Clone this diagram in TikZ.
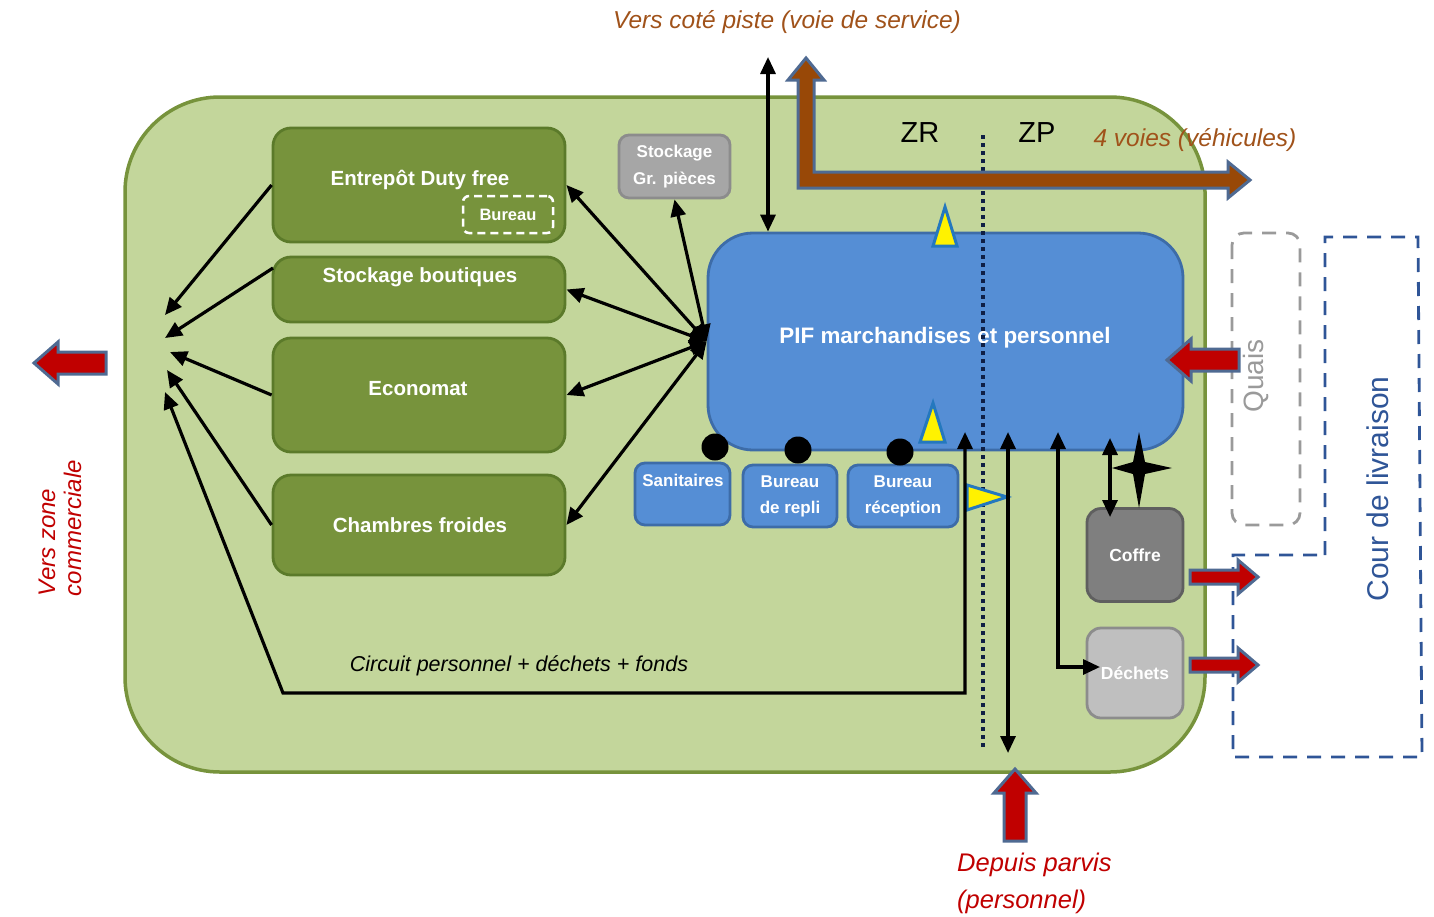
\documentclass[tikz,border=0pt]{standalone}
\usepackage{fontspec}
\setmainfont{Liberation Sans}
\usetikzlibrary{arrows.meta}

\definecolor{sitefill}{HTML}{C3D69B}
\definecolor{sitedraw}{HTML}{77933C}
\definecolor{olivebox}{HTML}{77933C}
\definecolor{olivedraw}{HTML}{5B7A2A}
\definecolor{bluebox}{HTML}{558ED5}
\definecolor{bluedraw}{HTML}{3D6CA8}
\definecolor{greybox}{HTML}{A6A6A6}
\definecolor{greydraw}{HTML}{8C8C8C}
\definecolor{darkbox}{HTML}{7F7F7F}
\definecolor{darkdraw}{HTML}{5F5F5F}
\definecolor{lightbox}{HTML}{BFBFBF}
\definecolor{lightdraw}{HTML}{8C8C8C}
\definecolor{roadbrown}{HTML}{984807}
\definecolor{textbrown}{HTML}{A0521A}
\definecolor{arrowred}{HTML}{C00000}
\definecolor{arrowedge}{HTML}{4F6A92}
\definecolor{zoneline}{HTML}{0F1F45}
\definecolor{tribord}{HTML}{2478BE}
\definecolor{courblue}{HTML}{2F5597}
\definecolor{quaisgrey}{HTML}{9A9A9A}

\tikzset{
  site/.style={draw=sitedraw, fill=sitefill, line width=3.5pt, rounded corners=95pt},
  olive/.style={draw=olivedraw, fill=olivebox, line width=2.8pt, rounded corners=18pt},
  bluepart/.style={draw=bluedraw, fill=bluebox, line width=2.8pt, rounded corners=10pt,
    text=white, font=\bfseries\fontsize{17}{26}\selectfont, align=center},
  greypart/.style={draw=greydraw, fill=greybox, line width=2.8pt, rounded corners=10pt,
    text=white, font=\bfseries\fontsize{17}{27}\selectfont, align=center},
  boxlabel/.style={text=white, font=\bfseries\fontsize{20.5}{24}\selectfont, inner sep=0pt},
  smalllabel/.style={text=white, font=\bfseries\fontsize{17}{20}\selectfont, inner sep=0pt},
  arr/.style={line width=3.2pt, -{Triangle[length=17pt,width=15pt]}},
  dblarr/.style={line width=3.2pt, {Triangle[length=17pt,width=15pt]}-{Triangle[length=17pt,width=15pt]}},
  dot/.style={circle, fill=black, minimum size=27pt, inner sep=0pt},
  warn/.style={draw=tribord, fill=yellow, line width=3pt, line join=miter},
  redblock/.style={draw=arrowedge, fill=arrowred, line width=3pt, line join=miter},
  bigarrow/.pic={\path[redblock] (-36,-11) -- (12,-11) -- (12,-21) -- (36,0) -- (12,21) -- (12,11) -- (-36,11) -- cycle;},
  smallarrow/.pic={\path[redblock] (-34,-7) -- (14,-7) -- (14,-17) -- (34,0) -- (14,17) -- (14,7) -- (-34,7) -- cycle;},
  note/.style={font=\itshape\fontsize{24.5}{28}\selectfont, inner sep=0pt},
}

\begin{document}
\begin{tikzpicture}[x=1pt,y=-1pt]
\useasboundingbox (0,0) rectangle (1434,916);

% site outline
\node[site, minimum width=1080pt, minimum height=675pt] (site) at (665,434.5) {};

% storage rooms on the left
\node[olive, minimum width=292pt, minimum height=114pt] (entrepot) at (419,185) {};
\node[boxlabel] (entrepotT) at (420,180) {Entrepôt Duty free};
\node[draw=white, dashed, dash pattern=on 8pt off 5pt, line width=2.5pt, rounded corners=6pt,
      minimum width=90pt, minimum height=37pt, text=white,
      font=\bfseries\fontsize{16.5}{18}\selectfont] (bureau) at (508,214.5) {Bureau};
\node[olive, minimum width=292pt, minimum height=65pt] (boutiques) at (419,289.5) {};
\node[boxlabel] (boutiquesT) at (420,277) {Stockage boutiques};
\node[olive, minimum width=292pt, minimum height=114pt] (economat) at (419,395) {};
\node[boxlabel] (economatT) at (418,389) {Economat};
\node[olive, minimum width=292pt, minimum height=100pt] (chambres) at (419,525) {};
\node[boxlabel] (chambresT) at (420,525) {Chambres froides};

% large parts storage
\node[greypart, minimum width=111pt, minimum height=63pt] (grpieces) at (674.5,166.5)
  {Stockage\\Gr. pièces};

% screening area
\node[draw=bluedraw, fill=bluebox, line width=2.8pt, rounded corners=45pt,
      minimum width=475pt, minimum height=217pt] (pif) at (945.5,341.5) {};
\node[text=white, font=\bfseries\fontsize{22.4}{26}\selectfont, inner sep=0pt] (pifT)
  at (945,338) {PIF marchandises et personnel};

% small rooms under the screening area
\node[bluepart, minimum width=95pt, minimum height=62pt] (sanitaires) at (682.5,494) {};
\node[smalllabel] (sanitairesT) at (683,480) {Sanitaires};
\node[bluepart, minimum width=94pt, minimum height=62pt] (repli) at (790,496) {Bureau\\de repli};
\node[bluepart, minimum width=110pt, minimum height=62pt] (reception) at (903,496) {Bureau\\réception};
\node[dot] (d1) at (715,447) {};
\node[dot] (d2) at (798,450) {};
\node[dot] (d3) at (900,452) {};

% safe and waste rooms
\node[draw=darkdraw, fill=darkbox, line width=2.8pt, rounded corners=14pt,
      minimum width=96pt, minimum height=93pt, text=white,
      font=\bfseries\fontsize{17.5}{20}\selectfont] (coffre) at (1135,555) {Coffre};
\node[draw=lightdraw, fill=lightbox, line width=2.8pt, rounded corners=14pt,
      minimum width=96pt, minimum height=90pt, text=white,
      font=\bfseries\fontsize{17.5}{20}\selectfont] (dechets) at (1135,673) {Déchets};

% outside zones
\draw[quaisgrey, line width=2.8pt, dash pattern=on 14pt off 10pt, rounded corners=12pt]
  (1232,233) rectangle (1300,525);
\node[quaisgrey, rotate=90, font=\fontsize{28}{32}\selectfont, inner sep=0pt] (quais) at (1256,376) {Quais};
\draw[courblue, line width=2.8pt, dash pattern=on 14pt off 10pt]
  (1325,555) -- (1325,237) -- (1418,237) -- (1422,757) -- (1233,757) -- (1233,555) -- cycle;
\node[courblue, rotate=90, font=\fontsize{30}{34}\selectfont, inner sep=0pt] (cour) at (1378,489) {Cour de livraison};

% ZR / ZP boundary
\coordinate (zTop) at (983,135);
\coordinate (zBot) at (983,750);
\draw[zoneline, line width=4.5pt, dash pattern=on 4pt off 4pt] (zTop) -- (zBot);
\node[font=\fontsize{29}{32}\selectfont, inner sep=0pt] (zr) at (920,133) {ZR};
\node[font=\fontsize{29}{32}\selectfont, inner sep=0pt] (zp) at (1037,133) {ZP};

% service road (brown L-shaped double arrow)
\path[draw=arrowedge, fill=roadbrown, line width=3pt, line join=miter]
  (798,188) -- (798,80) -- (788,80) -- (806,58) -- (824,80) -- (814,80) -- (814,172)
  -- (1228,172) -- (1228,162) -- (1250,180) -- (1228,198) -- (1228,188) -- cycle;
\node[note, text=textbrown] (voies) at (1195,140) {4 voies (véhicules)};
\node[note, text=textbrown] (piste) at (787,22) {Vers coté piste (voie de service)};

% control triangles
\path[warn] (945,207) -- (957,246) -- (933,246) -- cycle;
\path[warn] (933,403) -- (945,442) -- (920,442) -- cycle;
\path[warn] (1007,497) -- (967,485) -- (967,510) -- cycle;

% left collector
\coordinate (f1) at (165,315);
\coordinate (f2) at (165,338);
\coordinate (f3) at (170,352);
\coordinate (f4) at (167,370);
\coordinate (f5) at (165,392);
\draw[arr] (entrepot.west) -- (f1);
\draw[arr] (273,268) -- (f2);
\draw[arr] (economat.west) -- (f3);
\draw[arr] (chambres.west) -- (f4);

% staff / waste / funds circuit
\coordinate (c1) at (283,693);
\coordinate (c2) at (965,693);
\coordinate (pA) at (965,432);
\draw[dblarr] (f5) -- (c1) -- (c2) -- (pA);
\node[font=\itshape\fontsize{21.5}{24}\selectfont, inner sep=0pt] (circuit) at (519,666)
  {Circuit personnel + déchets + fonds};

% links from the screening area
\draw[dblarr] (pif.west) -- (entrepot.east);
\draw[dblarr] (pif.west) -- (boutiques.east);
\draw[dblarr] (pif.west) -- (economat.east);
\draw[dblarr] (pif.west) -- (chambres.east);
\draw[dblarr] (pif.west) -- (grpieces.south);
\coordinate (pisteTop) at (768,57);
\draw[dblarr] (pisteTop) -- (pisteTop |- pif.north);

% vertical links under the screening area
\coordinate (pB) at (1008,432);
\coordinate (pBend) at (1008,753);
\draw[dblarr] (pB) -- (pBend);
\coordinate (pC) at (1058,432);
\coordinate (pCturn) at (1058,667);
\draw[dblarr] (pC) -- (pCturn) -- (1100,667);
\coordinate (pD) at (1110,438);
\draw[dblarr] (pD) -- (1110,517);
\path[fill=black] (1139,432) -- (1145,462) -- (1172,468) -- (1145,474) -- (1139,508)
  -- (1133,474) -- (1112,468) -- (1133,462) -- cycle;

% red flow arrows
\pic[rotate=180] at (70,363) {bigarrow};
\pic[rotate=180] at (1203,360) {bigarrow};
\pic[rotate=90] at (1015,805) {bigarrow};
\pic at (1224,577) {smallarrow};
\pic at (1224,665) {smallarrow};

% outer labels
\node[arrowred, rotate=90, align=left, font=\itshape\fontsize{24}{26}\selectfont, inner sep=0pt]
  (commerce) at (60,528) {Vers zone\\commerciale};
\node[arrowred, align=left, font=\itshape\fontsize{25.5}{37}\selectfont, inner sep=0pt, anchor=north west]
  (parvis) at (957,853) {Depuis parvis\\(personnel)};
\end{tikzpicture}
\end{document}
